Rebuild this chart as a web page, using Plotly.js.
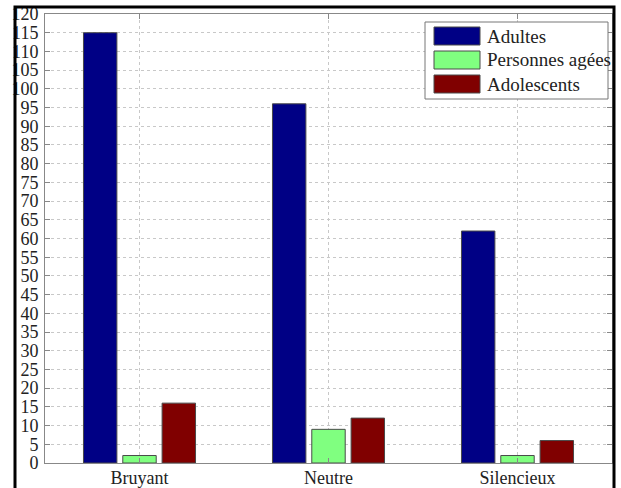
<!DOCTYPE html>
<html>
<head>
<meta charset="utf-8">
<script src="https://cdn.plot.ly/plotly-3.0.1.min.js"></script>
<style>html,body{margin:0;padding:0;background:#fff;}#chart{width:621px;height:488px;}</style>
</head>
<body>
<div id="chart"></div>
<script>
const categories = ["Bruyant", "Neutre", "Silencieux"];
const seriesNames = ["Adultes", "Personnes agées", "Adolescents"];
const adultes = [115, 96, 62];
const personnesAgees = [2, 9, 2];
const adolescents = [16, 12, 6];
const seriesColors = ["#000085", "#80ff80", "#800000"];
const yTicks = [0,5,10,15,20,25,30,35,40,45,50,55,60,65,70,75,80,85,90,95,100,105,110,115,120];

const seriesValues = [adultes, personnesAgees, adolescents];
const W = 621, H = 488;
const mL = 45, mR = 9, mT = 14, mB = 25;
const pw = W - mL - mR, ph = H - mT - mB;
const px = x => (x - mL) / pw;
const py = y => (H - mB - y) / ph;

const FONT = "'Liberation Serif', 'DejaVu Serif', serif";

const traces = seriesValues.map((vals, i) => ({
  type: "bar",
  x: categories,
  y: vals,
  name: seriesNames[i],
  marker: {color: seriesColors[i], line: {color: "#4a4a4a", width: 1}},
  showlegend: false,
  hoverinfo: "x+y+name"
}));

const shapes = [];
const annotations = [];
// outer black frame
shapes.push({type: "rect", xref: "paper", yref: "paper",
  x0: px(15), x1: px(614), y0: py(7), y1: py(520),
  line: {color: "#000", width: 3}, fillcolor: "rgba(0,0,0,0)", layer: "above"});
// legend box
shapes.push({type: "rect", xref: "paper", yref: "paper",
  x0: px(425), x1: px(608), y0: py(22), y1: py(99),
  line: {color: "#777", width: 1}, fillcolor: "#fff", layer: "above"});
seriesNames.forEach((name, i) => {
  const top = 27 + i * 24;
  shapes.push({type: "rect", xref: "paper", yref: "paper",
    x0: px(434), x1: px(480), y0: py(top), y1: py(top + 18),
    line: {color: "#4a4a4a", width: 1}, fillcolor: seriesColors[i], layer: "above"});
  annotations.push({xref: "paper", yref: "paper", x: px(485), y: py(top + 9),
    xanchor: "left", yanchor: "middle", showarrow: false, text: name,
    font: {family: FONT, size: 19, color: "#222"}});
});

const layout = {
  width: W, height: H,
  margin: {l: mL, r: mR, t: mT, b: mB, pad: 0},
  paper_bgcolor: "#fff", plot_bgcolor: "#fff",
  barmode: "group", bargap: 0.376, bargroupgap: 0.15,
  font: {family: FONT, size: 18, color: "#222"},
  showlegend: false,
  xaxis: {
    type: "category", range: [-0.5, 2.5],
    showline: true, linecolor: "#888", linewidth: 1, mirror: "ticks",
    ticks: "inside", ticklen: 5, tickcolor: "#888",
    showgrid: true, gridcolor: "#c8c8c8", griddash: "dot", gridwidth: 1,
    tickfont: {family: FONT, size: 18, color: "#222"},
    ticklabelstandoff: -2
  },
  yaxis: {
    range: [0, 120], tickvals: yTicks, ticktext: yTicks.map(String),
    showline: true, linecolor: "#888", linewidth: 1, mirror: "ticks",
    ticks: "inside", ticklen: 5, tickcolor: "#888",
    showgrid: true, gridcolor: "#c8c8c8", griddash: "dot", gridwidth: 1,
    zeroline: false,
    tickfont: {family: FONT, size: 18, color: "#222"},
    ticklabelstandoff: 2
  },
  shapes: shapes,
  annotations: annotations
};

Plotly.newPlot("chart", traces, layout, {displayModeBar: false, staticPlot: true});
</script>
</body>
</html>
